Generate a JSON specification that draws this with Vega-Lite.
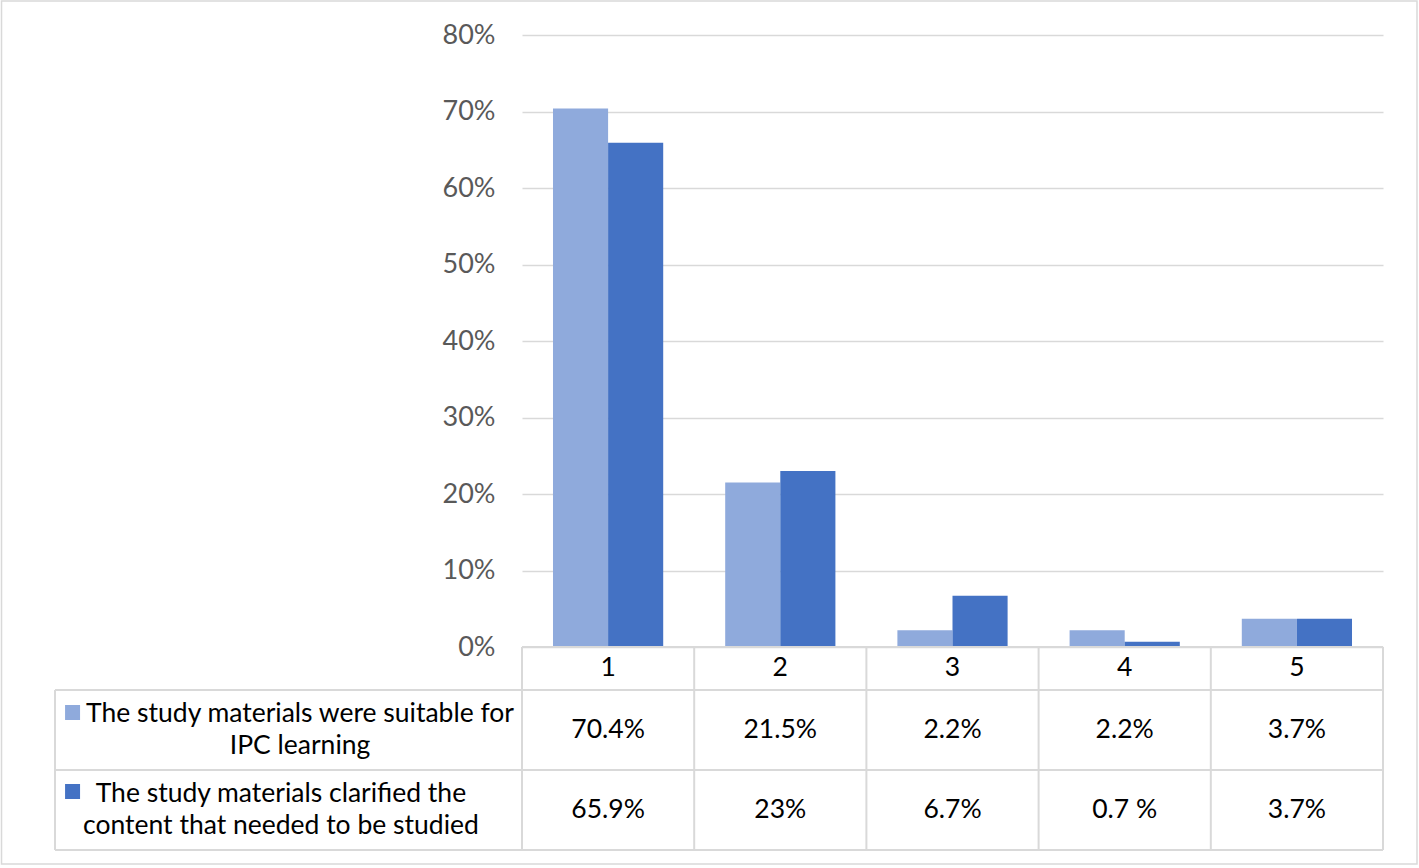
{
  "$schema": "https://vega.github.io/schema/vega-lite/v6.json",
  "width": 861,
  "height": 612,
  "autosize": {"type": "none"},
  "padding": {"left": 522, "top": 35, "right": 36, "bottom": 221},
  "background": "white",
  "config": {
    "view": {"stroke": null},
    "font": "Lato",
    "axisY": {
      "title": null, "grid": true, "gridColor": "#d9d9d9", "gridWidth": 1.5,
      "domain": false, "ticks": false, "labelPadding": 27, "labelFontSize": 27,
      "labelColor": "#595959", "labelFont": "Lato", "format": ".0%", "tickCount": 8
    }
  },
  "datasets": {
    "bars": [
      {"rating": "1", "s": "A", "value": 0.704, "label": "70.4%"},
      {"rating": "1", "s": "B", "value": 0.659, "label": "65.9%"},
      {"rating": "2", "s": "A", "value": 0.215, "label": "21.5%"},
      {"rating": "2", "s": "B", "value": 0.23, "label": "23%"},
      {"rating": "3", "s": "A", "value": 0.022, "label": "2.2%"},
      {"rating": "3", "s": "B", "value": 0.067, "label": "6.7%"},
      {"rating": "4", "s": "A", "value": 0.022, "label": "2.2%"},
      {"rating": "4", "s": "B", "value": 0.007, "label": "0.7 %"},
      {"rating": "5", "s": "A", "value": 0.037, "label": "3.7%"},
      {"rating": "5", "s": "B", "value": 0.037, "label": "3.7%"}
    ],
    "series": [
      {"s": "A", "name": "The study materials were suitable for\nIPC learning"},
      {"s": "B", "name": " The study materials clarified the\ncontent that needed to be studied"}
    ],
    "tablelines": [
      {"x": 0, "x2": 5, "y": 0, "y2": 0},
      {"x": -2.712, "x2": 5, "y": -0.0562, "y2": -0.0562},
      {"x": -2.712, "x2": 5, "y": -0.1608, "y2": -0.1608},
      {"x": -2.712, "x2": 5, "y": -0.2654, "y2": -0.2654},
      {"x": -2.712, "x2": -2.712, "y": -0.0562, "y2": -0.2654},
      {"x": 0, "x2": 0, "y": 0, "y2": -0.2654},
      {"x": 1, "x2": 1, "y": 0, "y2": -0.2654},
      {"x": 2, "x2": 2, "y": 0, "y2": -0.2654},
      {"x": 3, "x2": 3, "y": 0, "y2": -0.2654},
      {"x": 4, "x2": 4, "y": 0, "y2": -0.2654},
      {"x": 5, "x2": 5, "y": 0, "y2": -0.2654}
    ],
    "frame": [
      {"x": -3.0226, "x2": 5.1974, "y": 0.8444, "y2": -0.2837}
    ]
  },
  "layer": [
    {
      "data": {"name": "frame"},
      "mark": {"type": "rect", "fill": null, "stroke": "#d9d9d9", "strokeWidth": 1.5},
      "encoding": {
        "x": {"field": "x", "type": "quantitative", "scale": {"domain": [0, 5], "nice": false, "zero": false}, "axis": null},
        "x2": {"field": "x2"},
        "y": {"field": "y", "type": "quantitative", "scale": {"domain": [0, 0.8], "nice": false}},
        "y2": {"field": "y2"}
      }
    },
    {
      "data": {"name": "bars"},
      "mark": {"type": "bar"},
      "encoding": {
        "x": {"field": "rating", "type": "nominal", "scale": {"paddingInner": 0, "paddingOuter": 0}, "axis": null},
        "xOffset": {"field": "s", "type": "nominal", "scale": {"domain": ["A", "B"], "paddingInner": 0, "paddingOuter": 0.5625}},
        "y": {"field": "value", "type": "quantitative", "scale": {"domain": [0, 0.8], "nice": false}},
        "color": {"field": "s", "type": "nominal", "scale": {"domain": ["A", "B"], "range": ["#8faadc", "#4472c4"]}, "legend": null}
      }
    },
    {
      "data": {"name": "tablelines"},
      "mark": {"type": "rule", "color": "#d9d9d9", "strokeWidth": 2},
      "encoding": {
        "x": {"field": "x", "type": "quantitative", "scale": {"domain": [0, 5], "nice": false, "zero": false}, "axis": null},
        "x2": {"field": "x2"},
        "y": {"field": "y", "type": "quantitative"},
        "y2": {"field": "y2"}
      }
    },
    {
      "data": {"name": "bars"},
      "transform": [{"filter": "datum.s === 'A'"}],
      "mark": {"type": "text", "fontSize": 26.5, "color": "#000000", "baseline": "middle", "align": "center"},
      "encoding": {
        "x": {"field": "rating", "type": "nominal", "scale": {"paddingInner": 0, "paddingOuter": 0}, "axis": null},
        "y": {"datum": -0.0275, "type": "quantitative"},
        "text": {"field": "rating", "type": "nominal"}
      }
    },
    {
      "data": {"name": "bars"},
      "transform": [{"filter": "datum.s === 'A'"}],
      "mark": {"type": "text", "fontSize": 26.5, "color": "#000000", "baseline": "middle", "align": "center"},
      "encoding": {
        "x": {"field": "rating", "type": "nominal", "scale": {"paddingInner": 0, "paddingOuter": 0}, "axis": null},
        "y": {"datum": -0.1085, "type": "quantitative"},
        "text": {"field": "label", "type": "nominal"}
      }
    },
    {
      "data": {"name": "bars"},
      "transform": [{"filter": "datum.s === 'B'"}],
      "mark": {"type": "text", "fontSize": 26.5, "color": "#000000", "baseline": "middle", "align": "center"},
      "encoding": {
        "x": {"field": "rating", "type": "nominal", "scale": {"paddingInner": 0, "paddingOuter": 0}, "axis": null},
        "y": {"datum": -0.2131, "type": "quantitative"},
        "text": {"field": "label", "type": "nominal"}
      }
    },
    {
      "data": {"name": "series"},
      "transform": [{"filter": "datum.s === 'A'"}],
      "mark": {"type": "text", "fontSize": 26.5, "color": "#000000", "baseline": "middle", "align": "center", "lineBreak": "\n", "lineHeight": 32},
      "encoding": {
        "x": {"datum": -1.289, "type": "quantitative", "scale": {"domain": [0, 5], "nice": false, "zero": false}, "axis": null},
        "y": {"datum": -0.0876, "type": "quantitative"},
        "text": {"field": "name", "type": "nominal"}
      }
    },
    {
      "data": {"name": "series"},
      "transform": [{"filter": "datum.s === 'B'"}],
      "mark": {"type": "text", "fontSize": 26.5, "color": "#000000", "baseline": "middle", "align": "center", "lineBreak": "\n", "lineHeight": 32},
      "encoding": {
        "x": {"datum": -1.40, "type": "quantitative", "scale": {"domain": [0, 5], "nice": false, "zero": false}, "axis": null},
        "y": {"datum": -0.1922, "type": "quantitative"},
        "text": {"field": "name", "type": "nominal"}
      }
    },
    {
      "data": {"name": "series"},
      "transform": [{"filter": "datum.s === 'A'"}],
      "mark": {"type": "square", "size": 225, "opacity": 1},
      "encoding": {
        "x": {"datum": -2.61, "type": "quantitative", "scale": {"domain": [0, 5], "nice": false, "zero": false}, "axis": null},
        "y": {"datum": -0.0856, "type": "quantitative"},
        "color": {"field": "s", "type": "nominal", "legend": null}
      }
    },
    {
      "data": {"name": "series"},
      "transform": [{"filter": "datum.s === 'B'"}],
      "mark": {"type": "square", "size": 225, "opacity": 1},
      "encoding": {
        "x": {"datum": -2.61, "type": "quantitative", "scale": {"domain": [0, 5], "nice": false, "zero": false}, "axis": null},
        "y": {"datum": -0.1889, "type": "quantitative"},
        "color": {"field": "s", "type": "nominal", "legend": null}
      }
    }
  ],
  "resolve": {"scale": {"x": "independent"}}
}
